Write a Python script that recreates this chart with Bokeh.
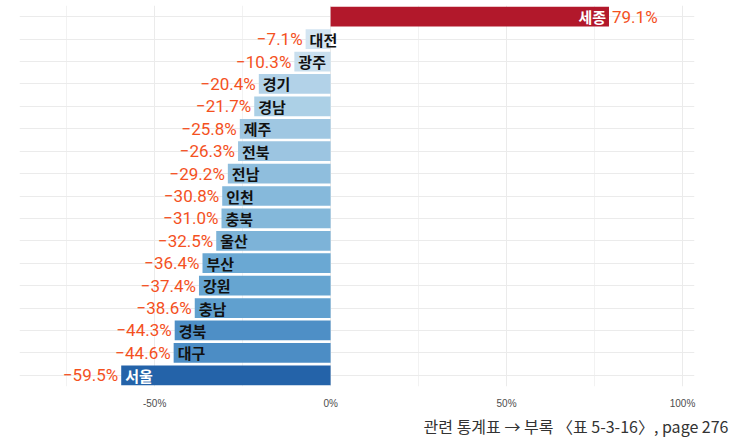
from bokeh.plotting import figure
from bokeh.models import FixedTicker, Title, ColumnDataSource, FactorRange, Range1d
from bokeh.core.properties import value
from bokeh.embed import file_html
from bokeh.resources import INLINE

# ---- data ----
regions = ["세종", "대전", "광주", "경기", "경남", "제주", "전북", "전남", "인천",
           "충북", "울산", "부산", "강원", "충남", "경북", "대구", "서울"]
changes = [79.1, -7.1, -10.3, -20.4, -21.7, -25.8, -26.3, -29.2, -30.8,
           -31.0, -32.5, -36.4, -37.4, -38.6, -44.3, -44.6, -59.5]
tick_values = [-50, 0, 50, 100]
tick_labels = ["-50%", "0%", "50%", "100%"]
minor_tick_values = [-75, -25, 25, 75]
caption = "관련 통계표 → 부록 〈표 5-3-16〉, page 276"

# ---- styles ----
bar_colors = ["#b2182b", "#d3e5f2", "#c9dfee", "#b2d2e8", "#acd0e6", "#9fc7e2",
              "#9cc5e1", "#8fbedd", "#86b9db", "#84b8da", "#7db3d8", "#6aa8d3",
              "#66a5d1", "#60a0cf", "#4e8fc6", "#4c8dc5", "#2463a9"]
name_colors = ["white" if (c > 0 or c < -55) else "#111111" for c in changes]

src = ColumnDataSource(dict(
    region=regions, change=changes, color=bar_colors, name_color=name_colors,
    vlabel=[("−" if c < 0 else "") + f"{abs(c):.1f}%" for c in changes],
))
pos = ColumnDataSource({k: [v for v, c in zip(src.data[k], changes) if c > 0] for k in src.data})
neg = ColumnDataSource({k: [v for v, c in zip(src.data[k], changes) if c < 0] for k in src.data})

p = figure(width=752, height=437, output_backend="svg", toolbar_location=None,
           y_range=FactorRange(factors=list(reversed(regions))),
           x_range=Range1d(-88.4, 103.4),
           min_border_left=19, min_border_right=58, min_border_top=5, min_border_bottom=47)
p.outline_line_color = None
p.background_fill_color = "white"

p.hbar(y="region", right="change", left=0, height=0.88, color="color", source=src, line_color=None)

font_kr = value("Noto Sans CJK KR")
# negative bars: name inside at left end, value outside to the left
p.text(x="change", y="region", text="region", source=neg, text_align="left", text_baseline="middle",
       x_offset=4, text_color="name_color", text_font=font_kr, text_font_size="15px", text_font_style="bold")
p.text(x="change", y="region", text="vlabel", source=neg, text_align="right", text_baseline="middle",
       x_offset=-3, text_color="#f4511e", text_font=value("Roboto"), text_font_size="17px")
# positive bar: name inside at right end, value outside to the right
p.text(x="change", y="region", text="region", source=pos, text_align="right", text_baseline="middle",
       x_offset=-3, text_color="name_color", text_font=font_kr, text_font_size="15px", text_font_style="bold")
p.text(x="change", y="region", text="vlabel", source=pos, text_align="left", text_baseline="middle",
       x_offset=3, text_color="#f4511e", text_font=value("Roboto"), text_font_size="17px")

p.xaxis.ticker = FixedTicker(ticks=tick_values, minor_ticks=minor_tick_values)
p.xaxis.major_label_overrides = {v: l for v, l in zip(tick_values, tick_labels)}
p.xaxis.axis_line_color = None
p.xaxis.major_tick_line_color = None
p.xaxis.minor_tick_line_color = None
p.xaxis.major_label_text_font_size = "10px"
p.xaxis.major_label_text_color = "#4d4d4d"
p.xaxis.major_label_text_font = "Liberation Sans"
p.xaxis.major_label_standoff = 5
p.yaxis.visible = False

p.xgrid.grid_line_color = "#ebebeb"
p.xgrid.minor_grid_line_color = "#f2f2f2"
p.ygrid.grid_line_color = "#ebebeb"

t = Title(text=caption, align="right", text_font_size="16px", text_font="Noto Sans CJK KR",
          text_font_style="normal", text_color="#333333", offset=-34, standoff=0)
p.add_layout(t, "below")

open("out.html", "w").write(file_html(p, INLINE))
